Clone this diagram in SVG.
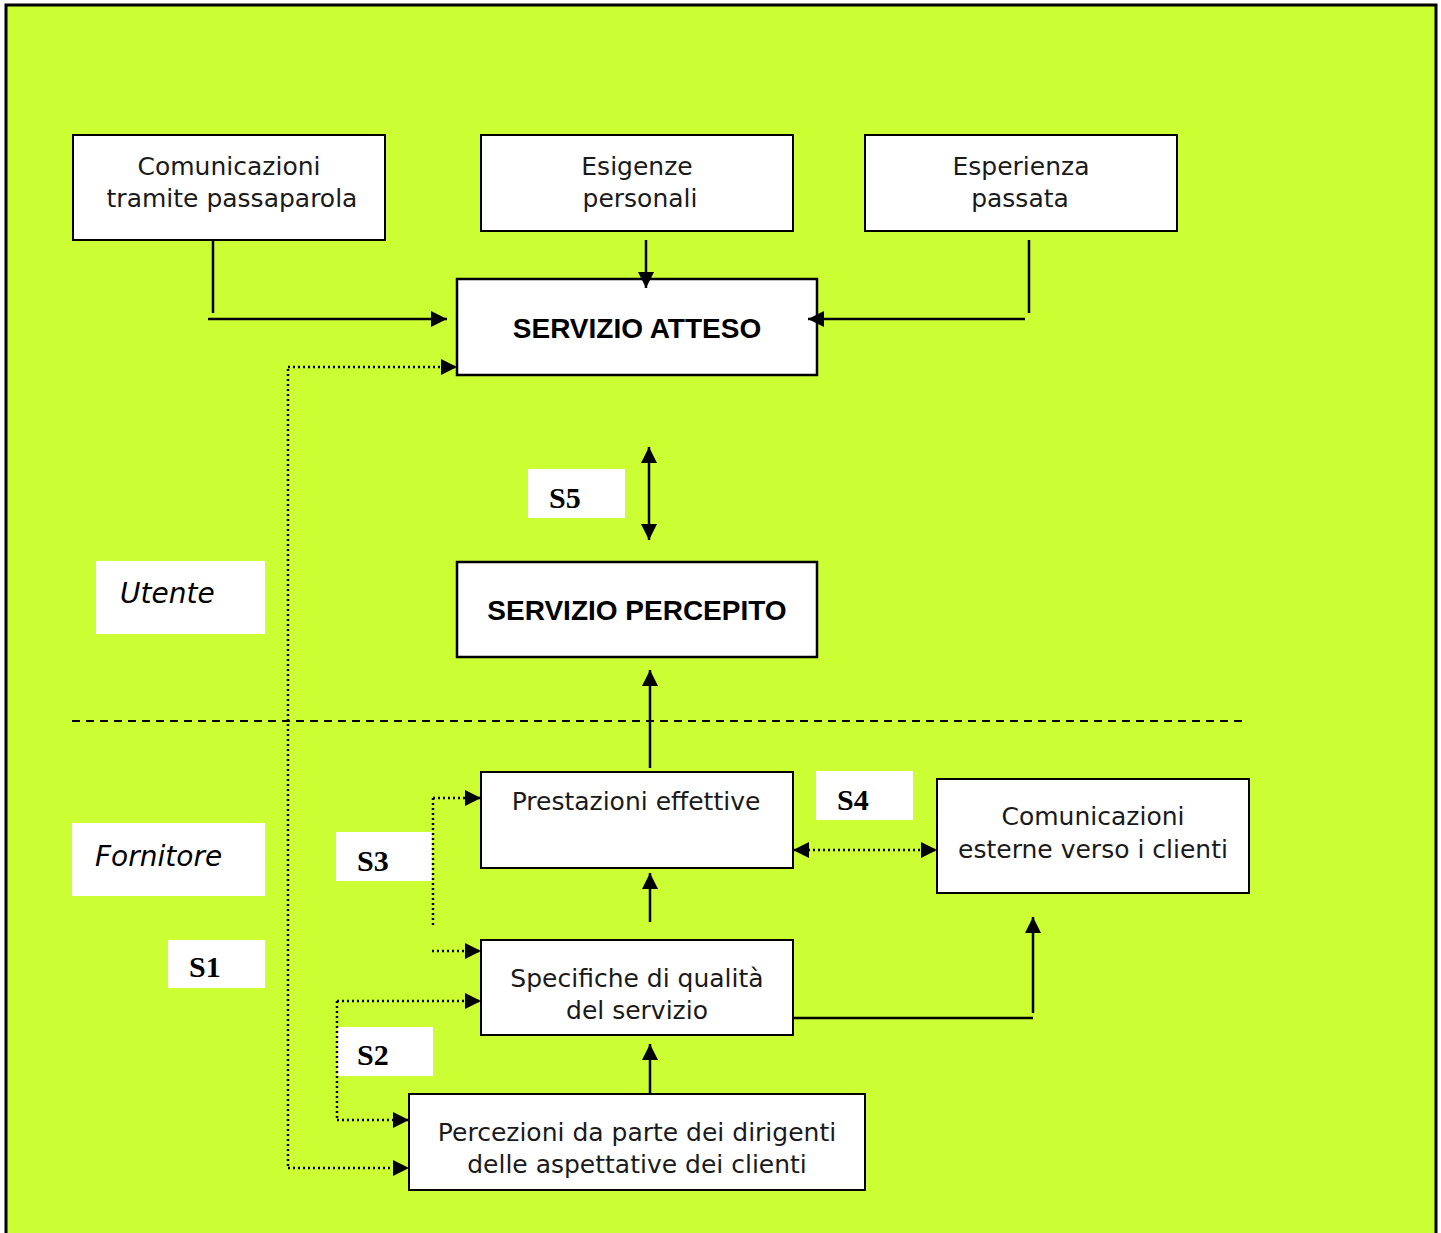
<svg xmlns="http://www.w3.org/2000/svg" width="1441" height="1233" viewBox="0 0 1441 1233">
<defs>
<style>
.box{fill:#fff;stroke:#000;stroke-width:2}
.bbox{fill:#fff;stroke:#000;stroke-width:2.5}
.lbl{fill:#fff;stroke:none}
.t{font-family:"DejaVu Sans",sans-serif;font-size:25px;fill:#1a1a1a;text-anchor:middle}
.tb{font-family:"Liberation Sans",Arial,sans-serif;font-weight:bold;font-size:28px;fill:#000;text-anchor:middle}
.ti{font-family:"DejaVu Sans",sans-serif;font-style:italic;font-size:28px;fill:#000}
.ts{font-family:"Liberation Serif","Times New Roman",serif;font-weight:bold;font-size:30px;fill:#000}
.ln{fill:none;stroke:#000;stroke-width:2.5}
.dot{fill:none;stroke:#000;stroke-width:2.5;stroke-dasharray:2 3}
.dash{fill:none;stroke:#000;stroke-width:2;stroke-dasharray:8 6}
</style>
<marker id="ah" viewBox="0 0 16 16" refX="16" refY="8" markerWidth="16" markerHeight="16" markerUnits="userSpaceOnUse" orient="auto-start-reverse">
<path d="M0,0 L16,8 L0,16 Z" fill="#000"/>
</marker>
</defs>
<rect x="6" y="5" width="1430" height="1240" fill="#CCFF33" stroke="#000" stroke-width="3"/>

<g id="n_passaparola">
<rect class="box" x="73" y="135" width="312" height="105"/>
<text class="t" x="229" y="175">Comunicazioni</text>
<text class="t" x="232" y="207">tramite passaparola</text>
</g>
<g id="n_esigenze">
<rect class="box" x="481" y="135" width="312" height="96"/>
<text class="t" x="637" y="175">Esigenze</text>
<text class="t" x="640" y="207">personali</text>
</g>
<g id="n_esperienza">
<rect class="box" x="865" y="135" width="312" height="96"/>
<text class="t" x="1021" y="175">Esperienza</text>
<text class="t" x="1020" y="207">passata</text>
</g>
<g id="n_atteso">
<rect class="bbox" x="457" y="279" width="360" height="96"/>
<text class="tb" x="637" y="338">SERVIZIO ATTESO</text>
</g>
<g id="n_percepito">
<rect class="bbox" x="457" y="562" width="360" height="95"/>
<text class="tb" x="637" y="620">SERVIZIO PERCEPITO</text>
</g>
<g id="n_utente">
<rect class="lbl" x="96" y="561" width="169" height="73"/>
<text class="ti" x="120" y="603">Utente</text>
</g>
<g id="n_fornitore">
<rect class="lbl" x="72" y="823" width="193" height="73"/>
<text class="ti" x="95" y="866">Fornitore</text>
</g>
<g id="n_s1">
<rect class="lbl" x="168" y="940" width="97" height="48"/>
<text class="ts" x="189" y="977">S1</text>
</g>
<g id="n_s2">
<rect class="lbl" x="337" y="1027" width="96" height="49"/>
<text class="ts" x="357" y="1065">S2</text>
</g>
<g id="n_s3">
<rect class="lbl" x="336" y="832" width="96" height="49"/>
<text class="ts" x="357" y="871">S3</text>
</g>
<g id="n_s4">
<rect class="lbl" x="816" y="771" width="97" height="49"/>
<text class="ts" x="837" y="810">S4</text>
</g>
<g id="n_s5">
<rect class="lbl" x="528" y="469" width="97" height="49"/>
<text class="ts" x="549" y="508">S5</text>
</g>
<g id="n_prestazioni">
<rect class="box" x="481" y="772" width="312" height="96"/>
<text class="t" x="636" y="810">Prestazioni effettive</text>
</g>
<g id="n_comest">
<rect class="box" x="937" y="779" width="312" height="114"/>
<text class="t" x="1093" y="825">Comunicazioni</text>
<text class="t" x="1093" y="858">esterne verso i clienti</text>
</g>
<g id="n_specifiche">
<rect class="box" x="481" y="940" width="312" height="95"/>
<text class="t" x="637" y="987">Specifiche di qualità</text>
<text class="t" x="637" y="1019">del servizio</text>
</g>
<g id="n_percezioni">
<rect class="box" x="409" y="1094" width="456" height="96"/>
<text class="t" x="637" y="1141">Percezioni da parte dei dirigenti</text>
<text class="t" x="637" y="1173">delle aspettative dei clienti</text>
</g>

<g id="connectors">
<path class="ln" d="M213,240 V313"/>
<path class="ln" d="M208,319 H447" marker-end="url(#ah)"/>
<path class="ln" d="M646,240 V288" marker-end="url(#ah)"/>
<path class="ln" d="M1029,240 V313"/>
<path class="ln" d="M1025,319 H808" marker-end="url(#ah)"/>
<path class="dot" d="M288,1166 V367"/>
<path class="dot" d="M288,367 H457" marker-end="url(#ah)"/>
<path class="dot" d="M288,1168 H409" marker-end="url(#ah)"/>
<path class="ln" d="M649,447 V540" marker-start="url(#ah)" marker-end="url(#ah)"/>
<path class="ln" d="M650,768 V670" marker-end="url(#ah)"/>
<path class="dash" d="M72,721 H1243"/>
<path class="ln" d="M650,922 V873" marker-end="url(#ah)"/>
<path class="ln" d="M650,1094 V1044" marker-end="url(#ah)"/>
<path class="dot" d="M433,798 V927"/>
<path class="dot" d="M433,798 H481" marker-end="url(#ah)"/>
<path class="dot" d="M432,951 H481" marker-end="url(#ah)"/>
<path class="dot" d="M337,1001 V1120"/>
<path class="dot" d="M337,1001 H481" marker-end="url(#ah)"/>
<path class="dot" d="M337,1120 H409" marker-end="url(#ah)"/>
<path class="dot" d="M793,850 H937" marker-start="url(#ah)" marker-end="url(#ah)"/>
<path class="ln" d="M793,1018 H1033"/>
<path class="ln" d="M1033,1013 V917" marker-end="url(#ah)"/>
</g>
</svg>
